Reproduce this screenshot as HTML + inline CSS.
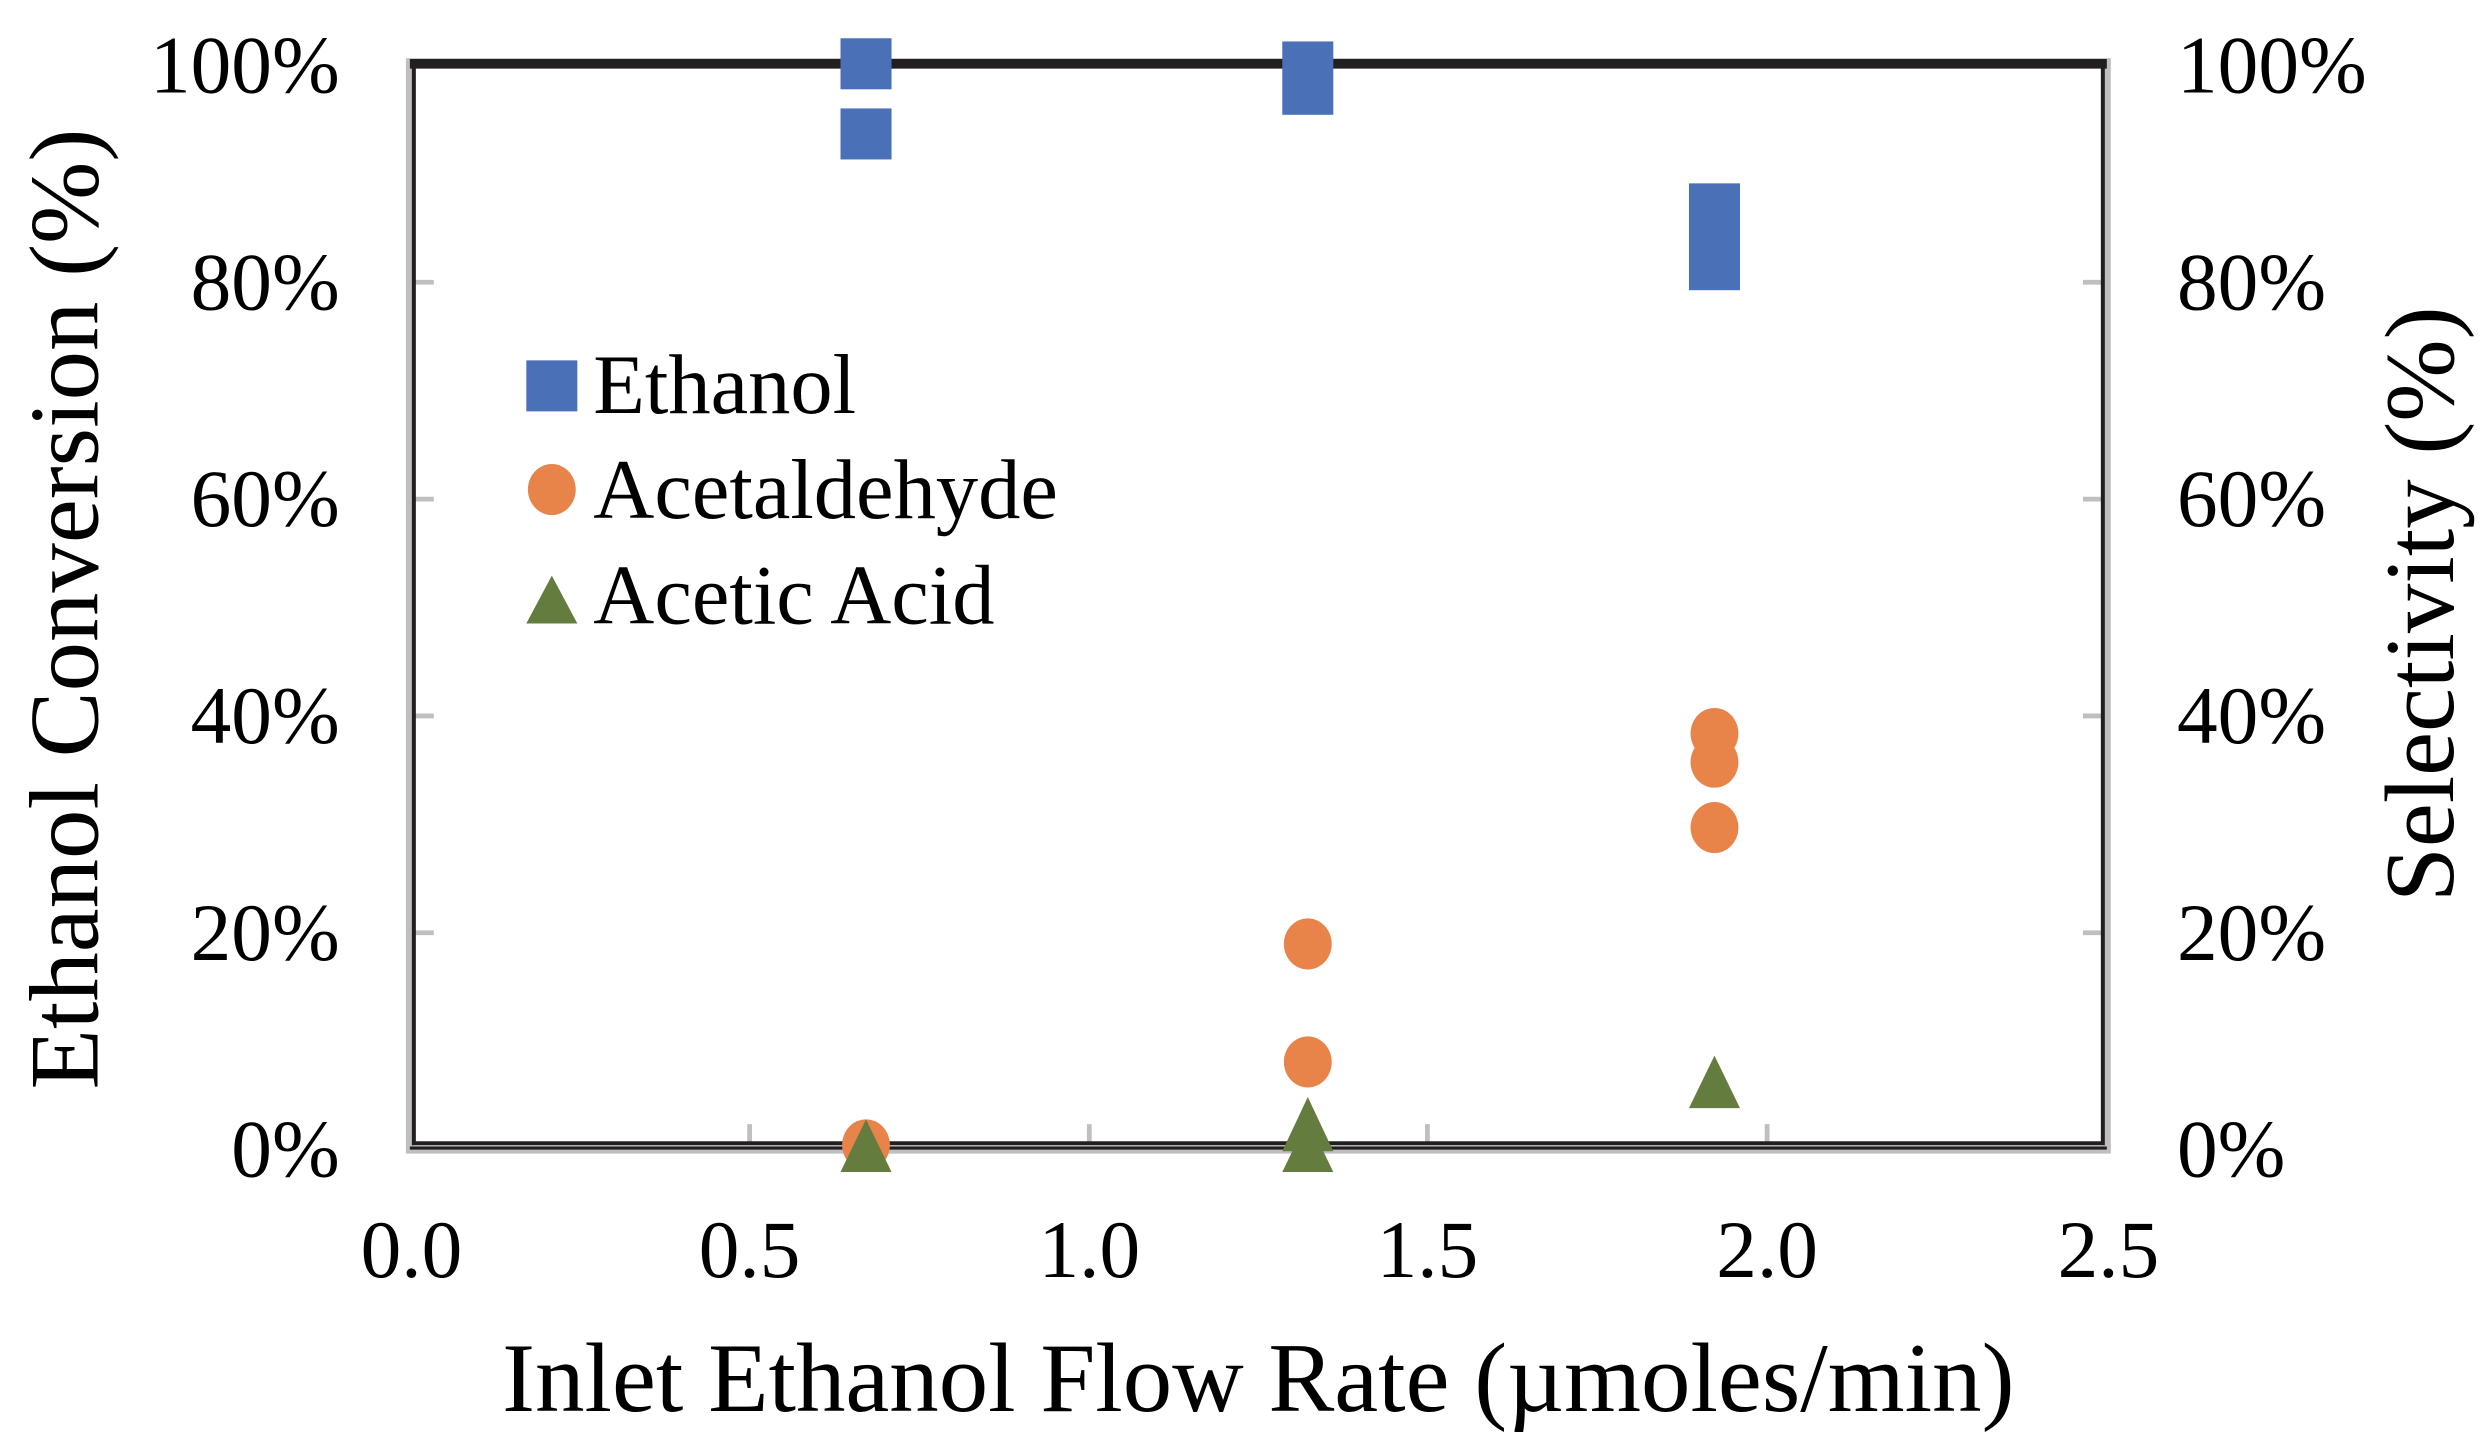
<!DOCTYPE html>
<html><head><meta charset="utf-8"><style>
html,body{margin:0;padding:0;background:#fff;}
svg{display:block;}
text{font-family:"Liberation Serif",serif;fill:#000;}
</style></head><body>
<svg width="2488" height="1451" viewBox="0 0 1560 910" preserveAspectRatio="none" xmlns="http://www.w3.org/2000/svg">
<rect width="1560" height="910" fill="#fff"/>
<g stroke="#bfbfbf" stroke-width="3">
<line x1="470" y1="705" x2="470" y2="718"/>
<line x1="683" y1="705" x2="683" y2="718"/>
<line x1="895" y1="705" x2="895" y2="718"/>
<line x1="1108" y1="705" x2="1108" y2="718"/>
<line x1="260" y1="177" x2="272" y2="177"/>
<line x1="260" y1="313" x2="272" y2="313"/>
<line x1="260" y1="449" x2="272" y2="449"/>
<line x1="260" y1="585" x2="272" y2="585"/>
<line x1="1306" y1="177" x2="1320" y2="177"/>
<line x1="1306" y1="313" x2="1320" y2="313"/>
<line x1="1306" y1="449" x2="1320" y2="449"/>
<line x1="1306" y1="585" x2="1320" y2="585"/>
</g>
<rect x="257" y="39" width="1064" height="682" fill="none" stroke="#bfbfbf" stroke-width="5"/>
<rect x="259.5" y="41" width="1059" height="676" fill="none" stroke="#231f20" stroke-width="2.5"/>
<line x1="257" y1="40" x2="1321" y2="40" stroke="#231f20" stroke-width="6"/>
<line x1="257" y1="720" x2="1321" y2="720" stroke="#231f20" stroke-width="2"/>
<g fill="#4a70b8">
<rect x="527" y="24" width="32" height="32"/>
<rect x="527" y="68" width="32" height="32"/>
<rect x="804" y="26" width="32" height="46"/>
<rect x="1059" y="115" width="32" height="67"/>
</g>
<g fill="#e8834a">
<ellipse cx="543" cy="718" rx="15" ry="16"/>
<ellipse cx="820" cy="592" rx="15" ry="16"/>
<ellipse cx="820" cy="666" rx="15" ry="16"/>
<ellipse cx="1075" cy="460" rx="15" ry="16"/>
<ellipse cx="1075" cy="478" rx="15" ry="16"/>
<ellipse cx="1075" cy="519" rx="15" ry="16"/>
</g>
<g fill="#647d3f">
<polygon points="543,702 527,735 559,735"/>
<polygon points="820,688 804,722 836,722"/>
<polygon points="820,702 804,735 836,735"/>
<polygon points="1075,662 1059,695 1091,695"/>
</g>
<rect x="330" y="226" width="32" height="32" fill="#4a70b8"/>
<ellipse cx="346" cy="307" rx="15" ry="16" fill="#e8834a"/>
<polygon points="346,361 330,391 362,391" fill="#647d3f"/>
<g font-size="53">
<text x="372" y="259">Ethanol</text>
<text x="372" y="325">Acetaldehyde</text>
<text x="372" y="391">Acetic Acid</text>
</g>
<g font-size="51" text-anchor="end">
<text x="213" y="58">100%</text>
<text x="213" y="194">80%</text>
<text x="213" y="330">60%</text>
<text x="213" y="466">40%</text>
<text x="213" y="602">20%</text>
<text x="213" y="738">0%</text>
</g>
<g font-size="51" text-anchor="start">
<text x="1365" y="58">100%</text>
<text x="1365" y="194">80%</text>
<text x="1365" y="330">60%</text>
<text x="1365" y="466">40%</text>
<text x="1365" y="602">20%</text>
<text x="1365" y="738">0%</text>
</g>
<g font-size="51" text-anchor="middle">
<text x="258" y="801">0.0</text>
<text x="470" y="801">0.5</text>
<text x="683" y="801">1.0</text>
<text x="895" y="801">1.5</text>
<text x="1108" y="801">2.0</text>
<text x="1322" y="801">2.5</text>
</g>
<text x="789" y="885" font-size="62" text-anchor="middle">Inlet Ethanol Flow Rate (µmoles/min)</text>
<text transform="translate(61,382) rotate(-90)" font-size="62" text-anchor="middle">Ethanol Conversion (%)</text>
<text transform="translate(1538,379) rotate(-90)" font-size="62" text-anchor="middle">Selectivity (%)</text>
</svg>
</body></html>
